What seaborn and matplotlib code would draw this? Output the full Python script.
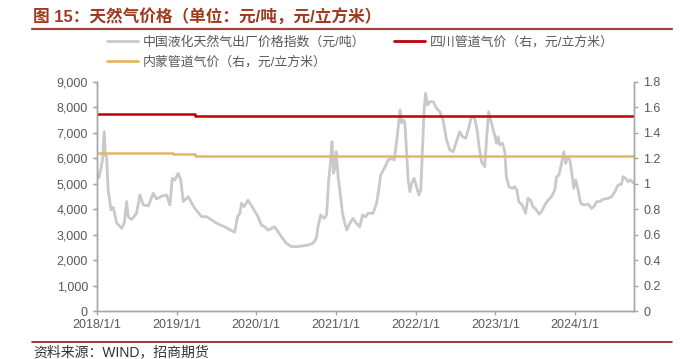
import pandas as pd
import matplotlib
matplotlib.use("Agg")
import matplotlib.pyplot as plt
import matplotlib.dates as mdates
from matplotlib.ticker import FuncFormatter, MultipleLocator
from matplotlib.lines import Line2D
import seaborn as sns

# -------------------------------
# Data
# -------------------------------
lng_dates = [
    "2018-01-03", "2018-01-10", "2018-01-19", "2018-01-26", "2018-02-03", "2018-02-09",
    "2018-02-14", "2018-02-21", "2018-03-01", "2018-03-06", "2018-03-17", "2018-04-01",
    "2018-04-24", "2018-05-06", "2018-05-17", "2018-05-24", "2018-06-09", "2018-07-01",
    "2018-07-17", "2018-08-01", "2018-08-24", "2018-09-16", "2018-10-01", "2018-10-24",
    "2018-11-16", "2018-12-01", "2018-12-12", "2018-12-24", "2019-01-08", "2019-01-20",
    "2019-01-31", "2019-02-23", "2019-03-25", "2019-04-25", "2019-05-18", "2019-06-10",
    "2019-07-10", "2019-08-10", "2019-09-10", "2019-09-24", "2019-10-07", "2019-10-18",
    "2019-10-25", "2019-11-06", "2019-11-24", "2019-12-17", "2020-01-09", "2020-01-24",
    "2020-02-09", "2020-02-24", "2020-03-10", "2020-03-25", "2020-04-09", "2020-04-25",
    "2020-05-18", "2020-06-10", "2020-07-10", "2020-08-25", "2020-09-17", "2020-10-02",
    "2020-10-10", "2020-10-22", "2020-11-07", "2020-11-18", "2020-11-28", "2020-12-07",
    "2020-12-13", "2020-12-20", "2020-12-26", "2021-01-01", "2021-01-10", "2021-01-18",
    "2021-01-30", "2021-02-10", "2021-02-19", "2021-03-04", "2021-03-19", "2021-04-04",
    "2021-04-19", "2021-05-02", "2021-05-16", "2021-05-27", "2021-06-19", "2021-07-05",
    "2021-07-15", "2021-07-24", "2021-08-09", "2021-08-27", "2021-09-12", "2021-09-24",
    "2021-10-05", "2021-10-15", "2021-10-21", "2021-10-28", "2021-11-06", "2021-11-12",
    "2021-11-20", "2021-11-27", "2021-12-05", "2021-12-13", "2021-12-24", "2022-01-04",
    "2022-01-15", "2022-01-24", "2022-02-01", "2022-02-08", "2022-02-15", "2022-02-24",
    "2022-03-06", "2022-03-22", "2022-04-06", "2022-04-21", "2022-05-06", "2022-05-22",
    "2022-06-06", "2022-06-21", "2022-07-06", "2022-07-21", "2022-08-03", "2022-08-18",
    "2022-09-02", "2022-09-13", "2022-09-28", "2022-10-09", "2022-10-18", "2022-10-29",
    "2022-11-13", "2022-11-21", "2022-12-01", "2022-12-14", "2022-12-26", "2023-01-06",
    "2023-01-13", "2023-01-21", "2023-02-02", "2023-02-13", "2023-02-20", "2023-03-04",
    "2023-03-19", "2023-03-30", "2023-04-09", "2023-04-18", "2023-05-04", "2023-05-19",
    "2023-05-30", "2023-06-10", "2023-06-22", "2023-07-08", "2023-07-20", "2023-07-31",
    "2023-08-15", "2023-08-31", "2023-09-15", "2023-09-30", "2023-10-08", "2023-10-19",
    "2023-10-31", "2023-11-10", "2023-11-19", "2023-11-27", "2023-12-08", "2023-12-15",
    "2023-12-26", "2024-01-04", "2024-01-15", "2024-01-23", "2024-01-30", "2024-02-15",
    "2024-03-01", "2024-03-16", "2024-03-27", "2024-04-09", "2024-04-23", "2024-05-09",
    "2024-06-01", "2024-06-16", "2024-07-01", "2024-07-16", "2024-08-01", "2024-08-08",
    "2024-08-20", "2024-08-31", "2024-09-11", "2024-09-23",
]
lng_price = [
    5400, 5250, 5600, 5930, 7050, 6100,
    6060, 4760, 4300, 3970, 4070, 3460,
    3250, 3460, 4300, 3700, 3600, 3840,
    4560, 4170, 4130, 4630, 4400, 4510,
    4560, 4170, 5215, 5150, 5410, 5150,
    4300, 4490, 4035, 3706, 3706, 3576,
    3420, 3300, 3156, 3100, 3706, 3840,
    4230, 4100, 4360, 4035, 3706, 3380,
    3310, 3180, 3245, 3313, 3120, 2920,
    2660, 2530, 2530, 2594, 2660, 2857,
    3310, 3773, 3640, 3773, 5150, 5934,
    6654, 5411, 5600, 6260, 5280, 4755,
    3840, 3440, 3183, 3440, 3640, 3440,
    3313, 3773, 3700, 3840, 3840, 4230,
    4755, 5345, 5600, 5934, 6000, 5934,
    6654, 7440, 7900, 7390, 7500, 7390,
    6200, 5150, 4690, 5020, 5215, 4885,
    4560, 4755, 6460, 7900, 8556, 8100,
    8226, 8226, 7966, 7834, 7506, 6720,
    6327, 6260, 6654, 7047, 6850, 6787,
    7245, 7636, 7570, 7100, 6460, 5868,
    5670, 6720, 7833, 7380, 6985, 6590,
    6850, 6525, 6590, 6260, 5280, 4885,
    4820, 4885, 4755, 4297, 4165, 3840,
    4430, 4365, 4100, 3970, 3810, 3900,
    4165, 4362, 4490, 4755, 5280, 5345,
    5800, 6260, 5800, 6064, 5934, 5540,
    4820, 5150, 4755, 4362, 4205, 4165,
    4205, 4035, 4100, 4297, 4297, 4390,
    4430, 4490, 4690, 4950, 4990, 5280,
    5215, 5085, 5150, 5045,
]

sichuan_dates = ["2018-01-01", "2018-11-07", "2019-03-25", "2024-09-23"]
sichuan_price = [1.55, 1.545, 1.535, 1.535]

neimeng_dates = ["2018-01-01", "2018-12-14", "2019-03-25", "2024-09-23"]
neimeng_price = [1.245, 1.235, 1.22, 1.22]

lng_label = "中国液化天然气出厂价格指数（元/吨）"
sichuan_label = "四川管道气价（右，元/立方米）"
neimeng_label = "内蒙管道气价（右，元/立方米）"
title = "图 15：天然气价格（单位：元/吨，元/立方米）"
source = "资料来源：WIND，招商期货"

# -------------------------------
# Style
# -------------------------------
sns.set_style("white")
plt.rcParams["font.family"] = ["Liberation Sans", "Noto Sans CJK SC"]

GREY = "#C9C9C9"
RED = "#C00000"
GOLD = "#E3B862"
AXIS = "#A6A6A6"
TEXT = "#595959"

fig = plt.figure(figsize=(6.83, 3.59), dpi=100)
ax = fig.add_axes([97 / 683, 1 - 311 / 359, (634 - 97) / 683, (311 - 82) / 359])
ax2 = ax.twinx()

lng = pd.DataFrame({"date": pd.to_datetime(lng_dates), "price": lng_price})
sc = pd.DataFrame({"date": pd.to_datetime(sichuan_dates), "price": sichuan_price})
nm = pd.DataFrame({"date": pd.to_datetime(neimeng_dates), "price": neimeng_price})

sns.lineplot(data=lng, x="date", y="price", ax=ax, color=GREY, linewidth=2.0)
sns.lineplot(data=sc, x="date", y="price", ax=ax2, color=RED, linewidth=1.8,
             drawstyle="steps-post")
sns.lineplot(data=nm, x="date", y="price", ax=ax2, color=GOLD, linewidth=1.8,
             drawstyle="steps-post")

# axes limits / ticks
ax.set_xlim(pd.Timestamp("2018-01-01"), pd.Timestamp("2024-09-27"))
ax.set_ylim(0, 9000)
ax2.set_ylim(0, 1.8)
ax.yaxis.set_major_locator(MultipleLocator(1000))
ax2.yaxis.set_major_locator(MultipleLocator(0.2))
ax.yaxis.set_major_formatter(FuncFormatter(lambda v, p: f"{v:,.0f}"))
ax2.yaxis.set_major_formatter(FuncFormatter(lambda v, p: f"{v:g}"))
ax.xaxis.set_major_locator(mdates.YearLocator())
ax.xaxis.set_major_formatter(
    FuncFormatter(lambda v, p: "{0.year}/{0.month}/{0.day}".format(mdates.num2date(v))))

for a in (ax, ax2):
    a.set_xlabel("")
    a.set_ylabel("")
    a.spines["top"].set_visible(False)
    for s in ("left", "right", "bottom"):
        a.spines[s].set_color(AXIS)
        a.spines[s].set_linewidth(1.0)
    a.tick_params(axis="both", colors=AXIS, labelcolor=TEXT, labelsize=9,
                  direction="out", length=3, width=1, left=True, bottom=True)
ax2.tick_params(axis="y", right=True)
ax.tick_params(axis="x", pad=3)

# legend
handles = [
    Line2D([], [], color=GREY, linewidth=2.0),
    Line2D([], [], color=GOLD, linewidth=2.0),
    Line2D([], [], color=RED, linewidth=2.0),
]
labels = [lng_label, neimeng_label, sichuan_label]
fig.legend(handles, labels, loc="upper left", bbox_to_anchor=(107 / 683, 1 - 36 / 359),
           ncol=2, frameon=False, fontsize=9.3, handlelength=2.4, handletextpad=0.4,
           columnspacing=2.2, labelspacing=0.55, borderpad=0, borderaxespad=0,
           labelcolor=TEXT)

# title, rules, source
fig.text(33 / 683, 1 - 17 / 359, title, fontsize=12, fontweight="bold",
         color="#9C3B1F", va="center", ha="left")
fig.add_artist(Line2D([32 / 683, 672 / 683], [1 - 29 / 359, 1 - 29 / 359],
                      color="#A3433C", linewidth=1.6, transform=fig.transFigure))
fig.add_artist(Line2D([32 / 683, 672 / 683], [1 - 342 / 359, 1 - 342 / 359],
                      color="#8B1A1A", linewidth=1.2, transform=fig.transFigure))
fig.text(33 / 683, 1 - 352 / 359, source, fontsize=10, color="#333333",
         va="center", ha="left")

fig.savefig("out.png", dpi=100)
plt.close(fig)
